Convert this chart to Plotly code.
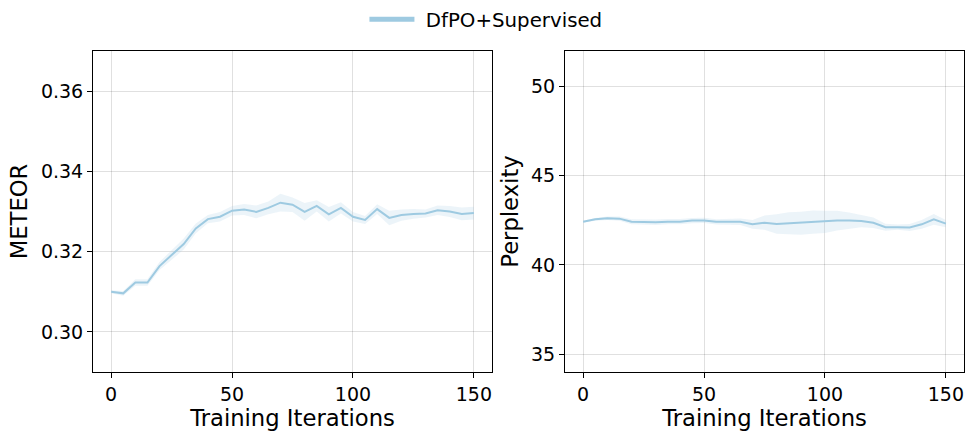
import plotly.graph_objects as go

iters = list(range(0, 155, 5))

meteor_mean = [0.3100, 0.3096, 0.3123, 0.3123, 0.3164, 0.3192, 0.3219, 0.3258, 0.3281, 0.3287,
               0.3302, 0.3305, 0.3299, 0.3309, 0.3322, 0.3317, 0.3299, 0.3314, 0.3293, 0.3309,
               0.3287, 0.3279, 0.3306, 0.3284, 0.3291, 0.3294, 0.3295, 0.3303, 0.3300, 0.3294,
               0.3296]
meteor_std = [0.0004, 0.0006, 0.0008, 0.0008, 0.0010, 0.0012, 0.0014, 0.0012, 0.0010, 0.0012,
              0.0012, 0.0014, 0.0016, 0.0016, 0.0022, 0.0018, 0.0022, 0.0014, 0.0018, 0.0014,
              0.0012, 0.0010, 0.0012, 0.0018, 0.0014, 0.0012, 0.0010, 0.0012, 0.0014, 0.0016,
              0.0016]

ppl_mean = [42.43, 42.56, 42.62, 42.60, 42.43, 42.40, 42.40, 42.43, 42.43, 42.49,
            42.50, 42.42, 42.43, 42.43, 42.28, 42.37, 42.30, 42.34, 42.34, 42.40,
            42.42, 42.49, 42.49, 42.47, 42.37, 42.12, 42.12, 42.10, 42.28, 42.56,
            42.32]
ppl_std = [0.05, 0.08, 0.10, 0.12, 0.14, 0.15, 0.15, 0.15, 0.15, 0.15,
           0.15, 0.15, 0.15, 0.18, 0.25, 0.40, 0.55, 0.62, 0.65, 0.65,
           0.62, 0.55, 0.45, 0.35, 0.30, 0.20, 0.15, 0.20, 0.25, 0.30,
           0.20]

series_name = "DfPO+Supervised"
line_color = "#9ecae1"
fill_color = "rgba(158,202,225,0.2)"
font_family = "DejaVu Sans, sans-serif"

fig = go.Figure()

def add_series(mean, std, xa, ya):
    upper = [m + s for m, s in zip(mean, std)]
    lower = [m - s for m, s in zip(mean, std)]
    fig.add_trace(go.Scatter(x=iters, y=upper, mode="lines", line=dict(width=0),
                             xaxis=xa, yaxis=ya, showlegend=False, hoverinfo="skip"))
    fig.add_trace(go.Scatter(x=iters, y=lower, mode="lines", line=dict(width=0),
                             fill="tonexty", fillcolor=fill_color,
                             xaxis=xa, yaxis=ya, showlegend=False, hoverinfo="skip"))
    fig.add_trace(go.Scatter(x=iters, y=mean, mode="lines", name=series_name,
                             line=dict(color=line_color, width=2),
                             xaxis=xa, yaxis=ya, showlegend=False))

add_series(meteor_mean, meteor_std, "x", "y")
add_series(ppl_mean, ppl_std, "x2", "y2")

# legend entry (thicker line like the reference legend handle)
fig.add_trace(go.Scatter(x=[None], y=[None], mode="lines", name=" " + series_name,
                         line=dict(color=line_color, width=5), xaxis="x", yaxis="y",
                         showlegend=True, hoverinfo="skip"))

axis_common = dict(
    showline=True, linecolor="black", linewidth=1, mirror=True,
    ticks="outside", ticklen=5, tickwidth=1, tickcolor="black",
    showgrid=True, gridcolor="rgba(0,0,0,0.12)", gridwidth=1,
    zeroline=False,
    tickfont=dict(family=font_family, size=19, color="black"),
)
title_size = 22.7

fig.update_layout(
    width=968, height=433,
    margin=dict(l=0, r=0, t=0, b=0),
    paper_bgcolor="white", plot_bgcolor="white",
    font=dict(family=font_family, color="black"),
    showlegend=True,
    legend=dict(orientation="h", x=0.502, xanchor="center", y=1.0, yanchor="top",
                itemwidth=45,
                font=dict(family=font_family, size=19.8), bgcolor="rgba(0,0,0,0)"),
    xaxis=dict(domain=[0.0961, 0.5083], range=[-7.5, 157.5], tickvals=[0, 50, 100, 150],
               title=dict(text="Training Iterations", font=dict(size=title_size), standoff=2),
               anchor="y", **axis_common),
    yaxis=dict(domain=[0.1409, 0.8822], range=[0.29, 0.37], tickvals=[0.30, 0.32, 0.34, 0.36],
               tickformat=".2f",
               title=dict(text="METEOR", font=dict(size=title_size), standoff=6),
               anchor="x", **axis_common),
    xaxis2=dict(domain=[0.5837, 0.9959], range=[-7.5, 157.5], tickvals=[0, 50, 100, 150],
                title=dict(text="Training Iterations", font=dict(size=title_size), standoff=2),
                anchor="y2", **axis_common),
    yaxis2=dict(domain=[0.1409, 0.8822], range=[34, 52], tickvals=[35, 40, 45, 50],
                title=dict(text="Perplexity", font=dict(size=title_size), standoff=6),
                anchor="x2", **axis_common),
)

fig.write_html("out.html")
